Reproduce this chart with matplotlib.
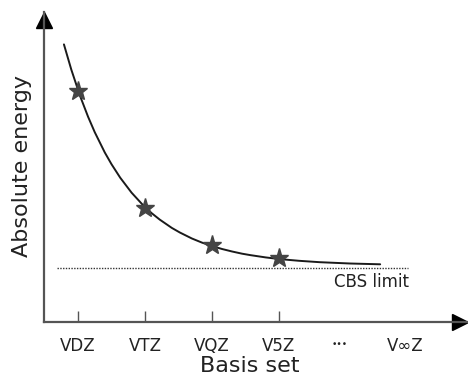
import matplotlib
matplotlib.use("Agg")
import matplotlib.pyplot as plt
import matplotlib.transforms as mtransforms

# ---- data ----
basis_pos = [1, 2, 3, 4]
basis_energy = [231.5, 114.5, 77.0, 64.0]          # star markers
curve_x = [0.79, 0.90, 1.03, 1.15, 1.25, 1.40, 1.50, 1.63, 1.80, 1.96, 2.10, 2.22, 2.40, 2.52,
           2.70, 2.85, 3.00, 3.15, 3.30, 3.45, 3.57, 3.80, 4.01, 4.30, 4.61, 5.06, 5.51]
curve_y = [277.6, 252.4, 226.2, 205.3, 189.8, 169.5, 157.8, 144.3, 129.3, 117.6, 108.8, 102.4, 94.1, 89.5,
           83.5, 79.4, 76.0, 73.0, 70.5, 68.3, 66.9, 64.6, 62.9, 61.2, 59.8, 58.5, 57.7]
cbs_level = 54.0
cbs_x = [0.69, 5.93]
tick_pos = [1, 2, 3, 4, 5.88]
tick_labels = ["VDZ", "VTZ", "VQZ", "V5Z", "V∞Z"]
ellipsis_pos = 4.91
ellipsis_label = "•••"

W, H = 468, 378
fig = plt.figure(figsize=(W / 100, H / 100), dpi=100)
left_px, right_px, bot_px, top_px = 44, 468, 322, 12
ax = fig.add_axes([left_px / W, (H - bot_px) / H, (right_px - left_px) / W, (bot_px - top_px) / H])

ax.set_xlim((left_px - 78) / 67 + 1, (right_px - 78) / 67 + 1)
ax.set_ylim(0, bot_px - top_px)

axis_col = "#555555"
for s in ["top", "right"]:
    ax.spines[s].set_visible(False)
for s in ["left", "bottom"]:
    ax.spines[s].set_color(axis_col)
    ax.spines[s].set_linewidth(1.6)

# arrow heads
ax.plot([0.981], [0], marker=">", markersize=11, color="black", transform=ax.transAxes, clip_on=False)
ax.plot([0], [0.974], marker="^", markersize=11, color="black", transform=ax.transAxes, clip_on=False)

# CBS limit dotted line
ax.plot(cbs_x, [cbs_level, cbs_level], color="#333333", lw=1.0, linestyle=(0, (1, 1)))
ax.text(4.82, 35, "CBS limit", fontsize=12, color="#222222", va="baseline", ha="left")

# curve and points
ax.plot(curve_x, curve_y, color="#1a1a1a", lw=1.4, solid_capstyle="round", solid_joinstyle="round")
ax.plot(basis_pos, basis_energy, linestyle="none", marker="*", markersize=14,
        color="#444444", markeredgecolor="#444444")

ax.set_yticks([])
ax.set_xticks(tick_pos)
ax.set_xticklabels(tick_labels, fontsize=12, color="#222222")
ax.tick_params(axis="x", direction="in", length=8, width=1.0, color=axis_col, pad=11)
ax.xaxis.get_major_ticks()[4].tick1line.set_visible(False)

trans = mtransforms.blended_transform_factory(ax.transData, ax.transAxes)
ax.text(ellipsis_pos, -0.073, ellipsis_label, fontsize=6.5, color="#222222",
        ha="center", va="center", transform=trans, clip_on=False)

fig.text(250 / W, 1 - 366 / H, "Basis set", fontsize=16, ha="center", va="center", color="#222222")
fig.text(22 / W, 1 - 166 / H, "Absolute energy", fontsize=16, rotation=90, ha="center", va="center", color="#222222")

fig.savefig("out.png", dpi=100)
